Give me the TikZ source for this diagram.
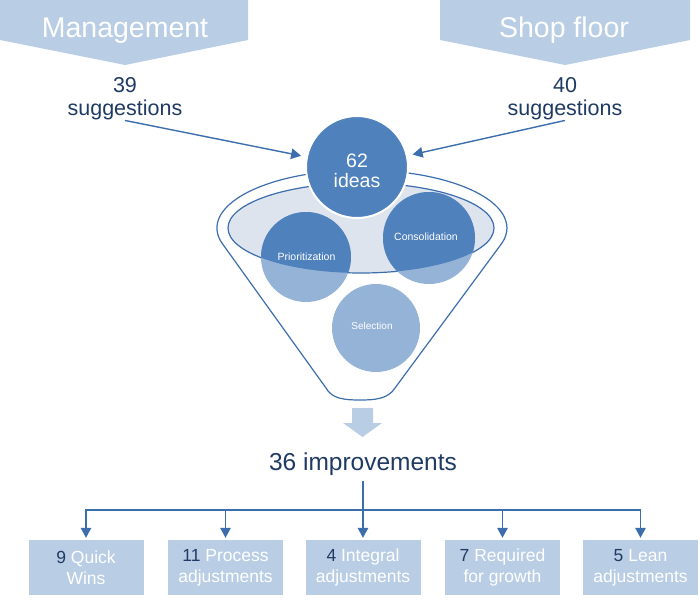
\documentclass[tikz,border=0pt]{standalone}
\usepackage{fontspec}
\setmainfont{Liberation Sans}
\usetikzlibrary{arrows.meta}
\definecolor{hdrblue}{HTML}{B9CDE5}
\definecolor{darkcirc}{HTML}{4F81BD}
\definecolor{lightcirc}{HTML}{95B3D7}
\definecolor{rimfill}{HTML}{DDE4EE}
\definecolor{linecol}{HTML}{3C6EAD}
\definecolor{navy}{HTML}{1F3A63}
\begin{document}
\begin{tikzpicture}[x=1pt,y=-1pt,
  hdrtext/.style={text=white,inner sep=0,font=\fontsize{28.5}{30}\selectfont},
  sugtext/.style={text=navy,align=center,inner sep=0,font=\fontsize{21.5}{23}\selectfont},
  conn/.style={draw=linecol,line width=1.4pt,-{Triangle[width=10.5pt,length=10pt]}},
  treeline/.style={draw=linecol,line width=1.4pt},
  smalltext/.style={text=white,inner sep=0,font=\fontsize{10.5}{12}\selectfont},
  resbox/.style={fill=hdrblue,minimum width=115pt,minimum height=55pt,inner sep=0,
    text=white,align=center,font=\fontsize{17.5}{21}\selectfont},
  num/.style={text=navy}]
\useasboundingbox (0,0) rectangle (700,602);

% header chevrons
\fill[hdrblue] (0,0) -- (248,0) -- (248,40) -- (125,65) -- (0,40) -- cycle;
\fill[hdrblue] (440,0) -- (690,0) -- (690,40) -- (565,65) -- (440,40) -- cycle;
\node[hdrtext] (mgmt) at (125,31) {Management};
\node[hdrtext] (shop) at (564,30) {Shop floor};

% suggestions
\node[sugtext] (sug1) at (125,99) {39\\suggestions};
\node[sugtext] (sug2) at (565,99) {40\\suggestions};

% funnel rim
\fill[rimfill,draw=linecol,line width=1.2pt] (361,228) ellipse [x radius=133,y radius=45];
\node[circle,fill=lightcirc,minimum size=90pt,inner sep=0] (prio) at (306,257) {};
\node[circle,fill=lightcirc,minimum size=92pt,inner sep=0] (cons) at (429,238) {};
\node[circle,fill=lightcirc,minimum size=88pt,inner sep=0] (sel) at (376,328) {};
\begin{scope}
  \clip (361,228) ellipse [x radius=133,y radius=45];
  \fill[darkcirc] (prio.center) circle (45);
  \fill[darkcirc] (cons.center) circle (46);
\end{scope}
\node[smalltext] (priotxt) at (306.5,257) {Prioritization};
\node[smalltext] (constxt) at (426,237) {Consolidation};
\node[smalltext,font=\fontsize{10}{12}\selectfont] (seltxt) at (372,326) {Selection};

% funnel outline
\draw[linecol,line width=1.2pt,line join=round]
  (326,388) -- (221.9,243)
  arc[start angle=165,end angle=375,x radius=145,y radius=58]
  -- (395,388) .. controls (388,399) and (375,400) .. (360,400)
  .. controls (345,400) and (332,399) .. (326,388) -- cycle;

% 62 ideas
\node[circle,fill=darkcirc,draw=white,line width=2pt,minimum size=102pt,inner sep=0] (ideas) at (357,167) {};
\node[text=white,align=center,inner sep=0,font=\fontsize{19.5}{20}\selectfont] (ideastxt) at (357,171) {62\\ideas};

\draw[conn,shorten >=5pt] (sug1.south) -- (ideas);
\draw[conn,shorten >=5pt] (sug2.south) -- (ideas);

% block arrow
\fill[hdrblue] (352,408) -- (373,408) -- (373,423) -- (382,423) -- (362.5,437)
  -- (343,423) -- (352,423) -- cycle;

% result
\node[text=navy,inner sep=0,font=\fontsize{24.5}{27}\selectfont] (imp) at (363,464) {36 improvements};

\node[resbox] (b1) at (86,567.5) {{\color{navy}9} Quick\\Wins};
\node[resbox] (b2) at (225.5,567.5) {{\color{navy}11} Process\\adjustments};
\node[resbox] (b3) at (363,567.5) {{\color{navy}4} Integral\\adjustments};
\node[resbox] (b4) at (502.5,567.5) {{\color{navy}7} Required\\for growth};
\node[resbox] (b5) at (640.5,567.5) {{\color{navy}5} Lean\\adjustments};

\coordinate (hub) at (363,510);
\draw[treeline] ([yshift=-5pt]imp.south) -- (hub);
\draw[treeline,line cap=rect] (b1.north |- hub) -- (b5.north |- hub);
\foreach \b in {b1,b2,b3,b4,b5}
  \draw[conn,shorten >=2pt] (\b.north |- hub) -- (\b.north);
\end{tikzpicture}
\end{document}
